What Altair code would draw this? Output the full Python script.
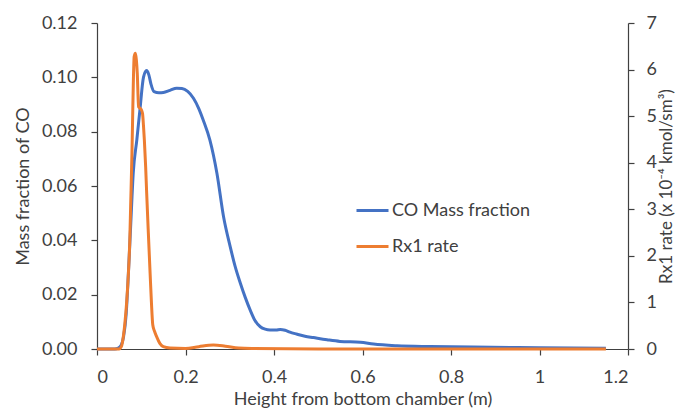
import altair as alt
import pandas as pd

# CO mass fraction (left axis)
co_x = [0, 0.04, 0.048, 0.055, 0.060, 0.066, 0.071, 0.076, 0.082, 0.090, 0.097, 0.105, 0.112,
        0.117, 0.122, 0.129, 0.140, 0.150, 0.165, 0.180, 0.192, 0.205, 0.218, 0.230, 0.240,
        0.255, 0.271, 0.286, 0.301, 0.312, 0.324, 0.335, 0.346, 0.357, 0.369, 0.380, 0.391,
        0.405, 0.414, 0.425, 0.436, 0.451, 0.470, 0.489, 0.520, 0.549, 0.595, 0.625, 0.678,
        0.753, 0.85, 1.0, 1.15]
co_y = [0, 0, 0.0003, 0.0015, 0.0045, 0.013, 0.028, 0.045, 0.065, 0.077, 0.088, 0.100, 0.1025,
        0.1010, 0.0975, 0.0947, 0.0943, 0.0944, 0.0952, 0.0960, 0.0959, 0.0948, 0.0923, 0.0885,
        0.0843, 0.077, 0.0647, 0.0487, 0.0377, 0.0305, 0.0242, 0.019, 0.0144, 0.0105, 0.0082,
        0.0073, 0.0070, 0.0070, 0.0072, 0.0069, 0.0062, 0.0055, 0.0047, 0.0042, 0.0034, 0.0028,
        0.0025, 0.0018, 0.0012, 0.0009, 0.0007, 0.0005, 0.0003]

# Rx1 rate (right axis, x 10^-4 kmol/sm^3)
rx_x = [0, 0.05, 0.055, 0.060, 0.063, 0.067, 0.071, 0.074, 0.076, 0.079, 0.081, 0.084, 0.087,
        0.089, 0.091, 0.094, 0.097, 0.101, 0.103, 0.105, 0.107, 0.110, 0.112, 0.116, 0.120,
        0.123, 0.126, 0.130, 0.135, 0.142, 0.150, 0.165, 0.20, 0.23, 0.263, 0.29, 0.32, 0.35,
        0.5, 1.15]
rx_y = [0, 0, 0.05, 0.3, 0.55, 1.0, 1.63, 2.3, 3.06, 4.2, 5.2, 6.28, 6.35, 6.2, 5.92, 5.2, 5.17,
        5.12, 5.05, 4.8, 4.49, 3.9, 3.41, 2.5, 1.63, 1.0, 0.52, 0.38, 0.26, 0.12, 0.05, 0.02,
        0.01, 0.05, 0.085, 0.06, 0.02, 0.01, 0.0, 0.0]

series_names = ["CO Mass fraction", "Rx1 rate"]
series_colors = ["#4472C4", "#ED7D31"]
x_ticks = [0, 0.2, 0.4, 0.6, 0.8, 1.0, 1.2]
left_ticks = [0, 0.02, 0.04, 0.06, 0.08, 0.10, 0.12]
right_ticks = [0, 1, 2, 3, 4, 5, 6, 7]

co_df = pd.DataFrame({"x": co_x, "y": co_y, "s": series_names[0]})
rx_df = pd.DataFrame({"x": rx_x, "y": rx_y, "s": series_names[1]})

FONT = "Lato"
FS = 18
TXT = "#404040"
AX = "#404040"

xenc = alt.X("x:Q", scale=alt.Scale(domain=[0, 1.2], nice=False, zero=False),
             axis=alt.Axis(values=x_ticks, format="~g", title="Height from bottom chamber (m)",
                           grid=False, labelPadding=13, titlePadding=4))
color = alt.Color("s:N", scale=alt.Scale(domain=series_names, range=series_colors),
                  legend=alt.Legend(title=None, orient="none", legendX=258, legendY=170,
                                    symbolType="stroke", symbolSize=1024, symbolStrokeWidth=3,
                                    labelFontSize=FS, labelColor=TXT, labelFont=FONT,
                                    rowPadding=9, padding=0, labelOffset=2))

co_line = alt.Chart(co_df).mark_line(strokeWidth=3, interpolate="monotone").encode(
    x=xenc,
    y=alt.Y("y:Q", scale=alt.Scale(domain=[0, 0.12], nice=False),
            axis=alt.Axis(values=left_ticks, format=".2f", title="Mass fraction of CO",
                          grid=False, orient="left", labelPadding=14, titlePadding=9)),
    color=color,
)

rx_line = alt.Chart(rx_df).mark_line(strokeWidth=3, interpolate="monotone").encode(
    x=xenc,
    y=alt.Y("y:Q", scale=alt.Scale(domain=[0, 7], nice=False),
            axis=alt.Axis(values=right_ticks, format="d",
                          title="Rx1 rate (x 10⁻⁴ kmol/sm³)", grid=False, orient="right",
                          titleAngle=270, titleBaseline="top", titleFontSize=17,
                          labelPadding=12, titlePadding=2)),
    color=color,
)

chart = alt.layer(co_line, rx_line).resolve_scale(y="independent").properties(
    width=531, height=326,
    autosize=alt.AutoSizeParams(type="none"),
    padding={"left": 89, "top": 15, "right": 51, "bottom": 62},
).configure_view(stroke=None).configure_axis(
    labelFont=FONT, titleFont=FONT, labelFontSize=FS, titleFontSize=FS,
    labelColor=TXT, titleColor=TXT, titleFontWeight="normal",
    domainColor=AX, tickColor=AX, domainWidth=1.2, tickWidth=1.2, tickSize=6,
)

chart.save("out.html", embed_options={"renderer": "svg", "actions": False})
